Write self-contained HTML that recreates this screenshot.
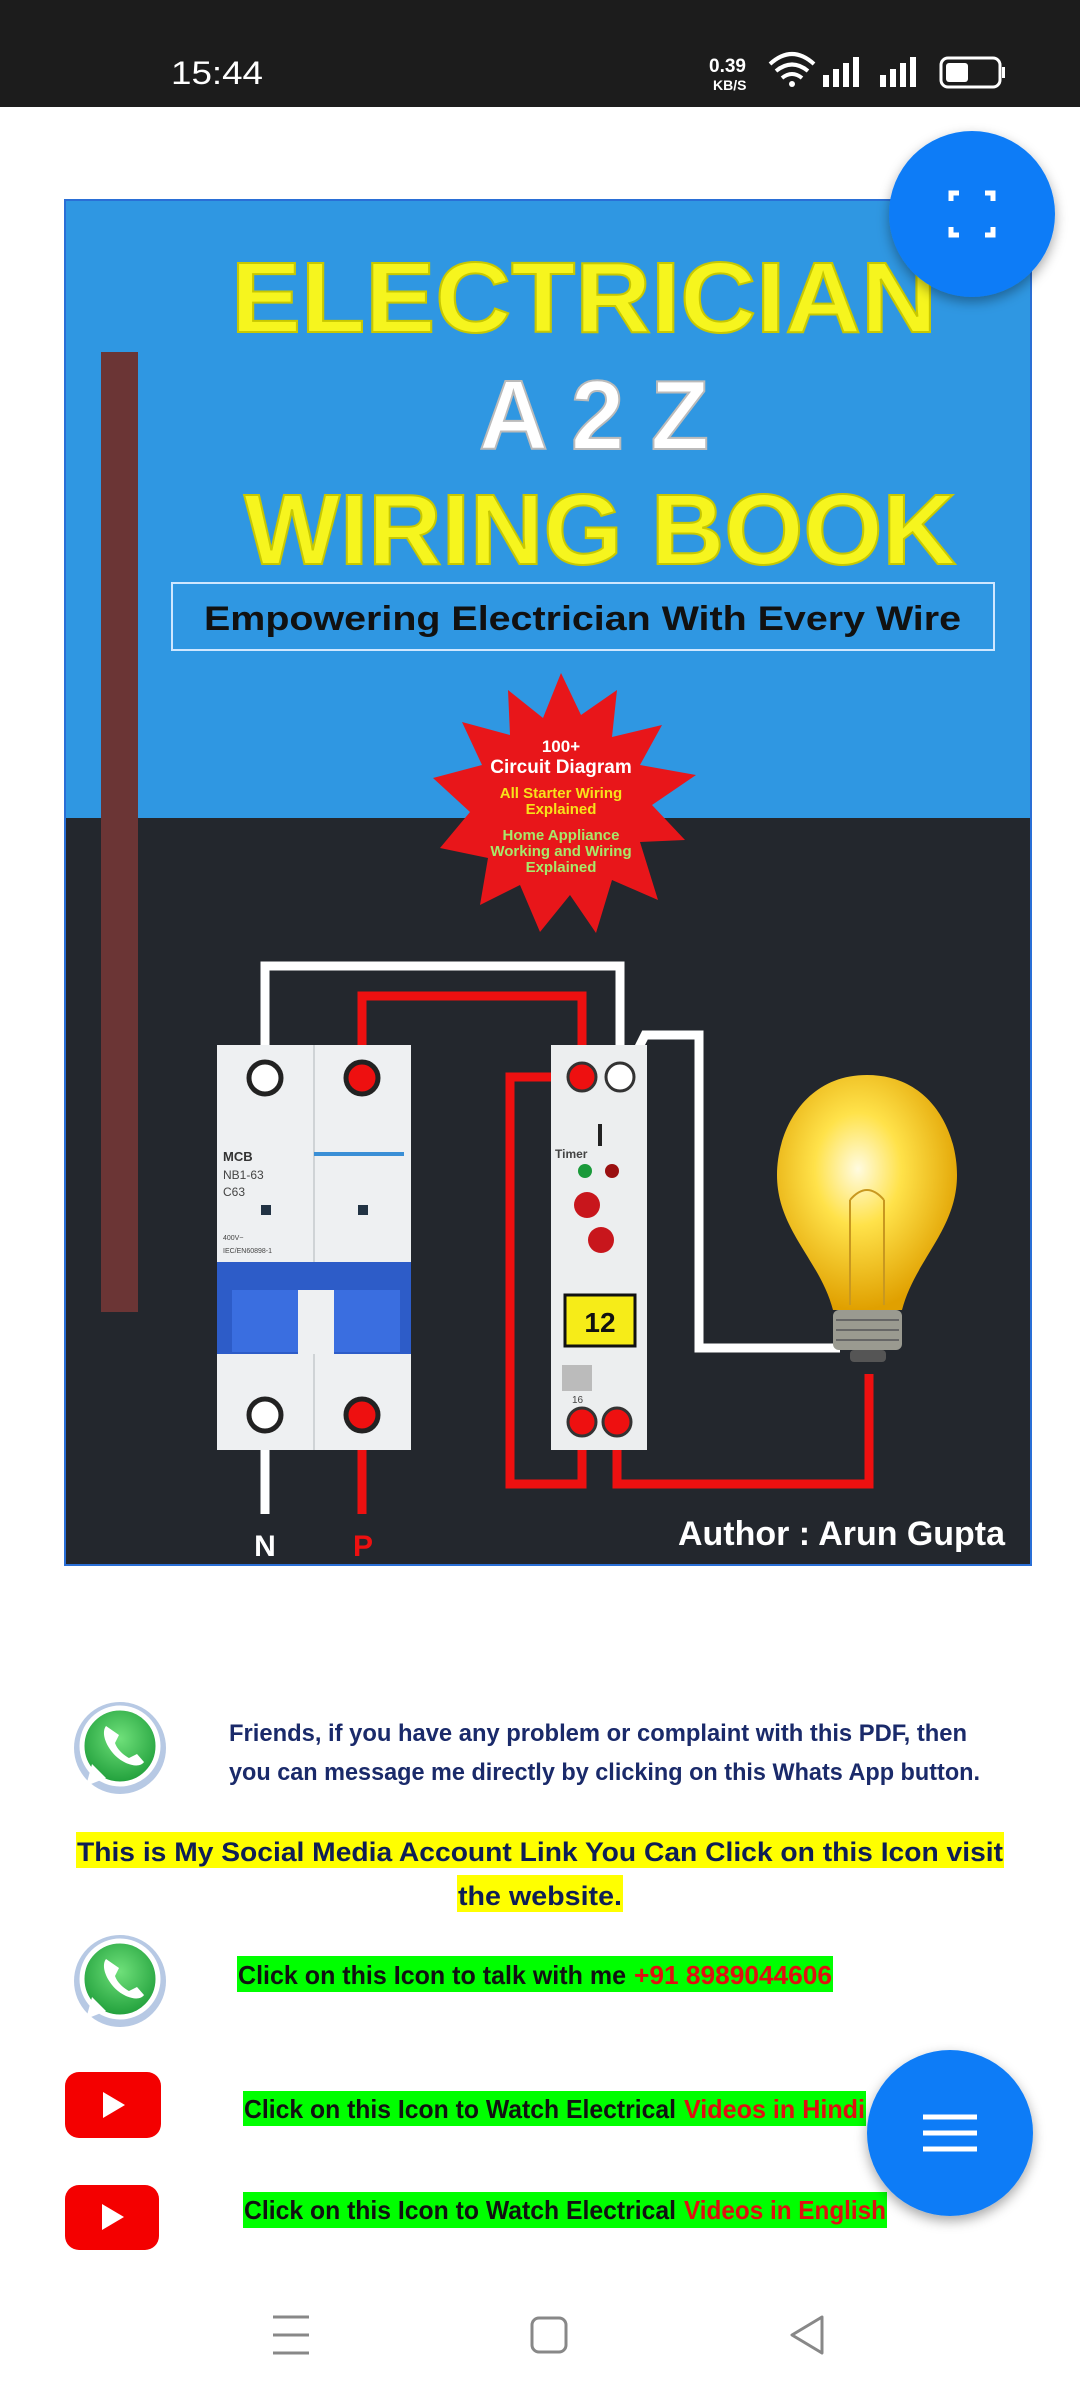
<!DOCTYPE html>
<html><head><meta charset="utf-8"><style>
html,body{margin:0;padding:0;background:#fff;width:1080px;height:2400px;overflow:hidden}
svg{display:block}
text{font-family:"Liberation Sans",sans-serif}
</style></head><body>
<svg width="1080" height="2400" viewBox="0 0 1080 2400" xmlns="http://www.w3.org/2000/svg">
<defs>
<radialGradient id="bulb" cx="0.45" cy="0.4" r="0.6"><stop offset="0" stop-color="#fffbe0"/><stop offset="0.4" stop-color="#ffe24a"/><stop offset="1" stop-color="#e0a000"/></radialGradient>
<radialGradient id="wa" cx="0.5" cy="0.4" r="0.6"><stop offset="0" stop-color="#6fe07a"/><stop offset="1" stop-color="#1f9e3a"/></radialGradient>
<filter id="sh" x="-30%" y="-30%" width="160%" height="160%"><feDropShadow dx="0" dy="5" stdDeviation="6" flood-opacity="0.35"/></filter>
</defs>
<!-- status bar -->
<rect x="0" y="0" width="1080" height="107" fill="#1c1c1c"/>
<text x="171" y="84" font-size="32" fill="#fff" textLength="92" lengthAdjust="spacingAndGlyphs">15:44</text>
<text x="709" y="72" font-size="19" fill="#fff" font-weight="bold">0.39</text>
<text x="713" y="90" font-size="14" fill="#fff" font-weight="bold">KB/S</text>
<path d="M770 64 q22 -20 44 0 M776 71 q16 -13 32 0 M782 78 q10 -8 20 0" stroke="#fff" stroke-width="4" fill="none"/>
<circle cx="792" cy="84" r="3" fill="#fff"/>
<rect x="823" y="75" width="6" height="12" fill="#fff"/><rect x="833" y="69" width="6" height="18" fill="#fff"/><rect x="843" y="63" width="6" height="24" fill="#fff"/><rect x="853" y="57" width="6" height="30" fill="#fff"/>
<rect x="880" y="75" width="6" height="12" fill="#fff"/><rect x="890" y="69" width="6" height="18" fill="#fff"/><rect x="900" y="63" width="6" height="24" fill="#fff"/><rect x="910" y="57" width="6" height="30" fill="#fff"/>
<rect x="941" y="58" width="59" height="29" rx="7" fill="none" stroke="#fff" stroke-width="3"/>
<rect x="946" y="63" width="22" height="19" rx="3" fill="#fff"/><rect x="1002" y="67" width="3" height="11" fill="#fff"/>

<!-- cover -->
<rect x="65" y="200" width="966" height="618" fill="#2f97e2"/>
<rect x="65" y="818" width="966" height="747" fill="#23272d"/>
<rect x="65" y="200" width="966" height="1365" fill="none" stroke="#2a6fd6" stroke-width="2"/>
<rect x="101" y="352" width="37" height="960" fill="#6b3535"/>
<text x="231" y="332" font-size="100" font-weight="bold" fill="#f6f51e" stroke="#c8c800" stroke-width="2" textLength="706" lengthAdjust="spacingAndGlyphs">ELECTRICIAN</text>
<text x="479" y="449" font-size="98" font-weight="bold" fill="#fff" stroke="#bbb" stroke-width="2" textLength="230" lengthAdjust="spacingAndGlyphs">A 2 Z</text>
<text x="244" y="564" font-size="100" font-weight="bold" fill="#f6f51e" stroke="#c8c800" stroke-width="2" textLength="712" lengthAdjust="spacingAndGlyphs">WIRING BOOK</text>
<rect x="172" y="583" width="822" height="67" fill="none" stroke="#cfe7ff" stroke-width="2"/>
<text x="204" y="630" font-size="34" font-weight="bold" fill="#111" textLength="757" lengthAdjust="spacingAndGlyphs">Empowering Electrician With Every Wire</text>
<!-- star -->
<polygon fill="#e8161a" points="561,673 581,715 617,690 612,737 662,725 640,765 696,775 652,805 685,840 640,842 658,900 612,880 596,933 570,895 540,932 520,885 480,905 488,858 440,848 470,812 433,778 482,765 462,722 510,735 508,690 543,718" />
<g font-weight="bold" text-anchor="middle">
<text x="561" y="752" font-size="17" fill="#fff">100+</text>
<text x="561" y="773" font-size="19" fill="#fff">Circuit Diagram</text>
<text x="561" y="798" font-size="15" fill="#f7e21a">All Starter Wiring</text>
<text x="561" y="814" font-size="15" fill="#f7e21a">Explained</text>
<text x="561" y="840" font-size="15" fill="#a8e86a">Home Appliance</text>
<text x="561" y="856" font-size="15" fill="#a8e86a">Working and Wiring</text>
<text x="561" y="872" font-size="15" fill="#a8e86a">Explained</text>
</g>
<!-- wires -->
<path d="M265 1078 V966 H620 V1078" stroke="#fff" stroke-width="9" fill="none"/>
<path d="M362 1078 V996 H582 V1078" stroke="#ee1010" stroke-width="9" fill="none"/>
<path d="M582 1077 H510 V1484 H582 V1422" stroke="#ee1010" stroke-width="9" fill="none"/>
<path d="M617 1422 V1484 H869 V1374" stroke="#ee1010" stroke-width="9" fill="none"/>
<path d="M625 1075 L645 1035 H699 V1348 H840" stroke="#fff" stroke-width="9" fill="none"/>
<path d="M265 1415 V1514" stroke="#fff" stroke-width="9"/>
<path d="M362 1415 V1514" stroke="#ee1010" stroke-width="9"/>
<!-- MCB -->
<rect x="217" y="1045" width="194" height="405" fill="#eef0f2"/>
<line x1="314" y1="1045" x2="314" y2="1450" stroke="#cfd3d6" stroke-width="2"/>
<rect x="314" y="1152" width="90" height="4" fill="#3a8fd6"/>
<text x="223" y="1161" font-size="13" font-weight="bold" fill="#333">MCB</text>
<text x="223" y="1179" font-size="12" fill="#444">NB1-63</text>
<text x="223" y="1196" font-size="12" fill="#444">C63</text>
<rect x="261" y="1205" width="10" height="10" fill="#234"/><rect x="358" y="1205" width="10" height="10" fill="#234"/>
<text x="223" y="1240" font-size="7" fill="#444">400V~</text>
<text x="223" y="1253" font-size="7" fill="#444">IEC/EN60898-1</text>
<rect x="217" y="1262" width="194" height="92" fill="#2d5cc8"/>
<rect x="232" y="1290" width="66" height="62" fill="#3a6ee0"/><rect x="334" y="1290" width="66" height="62" fill="#3a6ee0"/>
<rect x="298" y="1290" width="36" height="64" fill="#eef0f2"/>
<circle cx="265" cy="1078" r="16" fill="#fff" stroke="#222" stroke-width="5"/>
<circle cx="362" cy="1078" r="16" fill="#ee1010" stroke="#222" stroke-width="5"/>
<circle cx="265" cy="1415" r="16" fill="#fff" stroke="#222" stroke-width="5"/>
<circle cx="362" cy="1415" r="16" fill="#ee1010" stroke="#222" stroke-width="5"/>
<!-- Timer -->
<rect x="551" y="1045" width="96" height="405" fill="#eceeef"/>
<rect x="598" y="1124" width="4" height="22" fill="#222"/>
<text x="555" y="1158" font-size="12" font-weight="bold" fill="#444">Timer</text>
<circle cx="585" cy="1171" r="7" fill="#1a9a3a"/><circle cx="612" cy="1171" r="7" fill="#9a1010"/>
<circle cx="587" cy="1205" r="13" fill="#c8161c"/><circle cx="601" cy="1240" r="13" fill="#c8161c"/>
<rect x="565" y="1295" width="70" height="51" fill="#f6ec18" stroke="#111" stroke-width="3"/>
<text x="600" y="1332" font-size="28" font-weight="bold" fill="#111" text-anchor="middle">12</text>
<rect x="562" y="1365" width="30" height="26" fill="#bbb"/>
<text x="572" y="1403" font-size="10" fill="#444">16</text>
<circle cx="582" cy="1077" r="14" fill="#ee1010" stroke="#333" stroke-width="3"/>
<circle cx="620" cy="1077" r="14" fill="#fff" stroke="#333" stroke-width="3"/>
<circle cx="582" cy="1422" r="14" fill="#ee1010" stroke="#333" stroke-width="3"/>
<circle cx="617" cy="1422" r="14" fill="#ee1010" stroke="#333" stroke-width="3"/>
<!-- bulb -->
<path d="M867 1075 C930 1075 957 1130 957 1175 C957 1230 915 1260 902 1310 H833 C820 1260 777 1230 777 1175 C777 1130 805 1075 867 1075 Z" fill="url(#bulb)"/>
<path d="M850 1200 V1305 M884 1200 V1305 M850 1200 q17 -20 34 0" stroke="#c89820" stroke-width="2" fill="none"/>
<rect x="833" y="1310" width="69" height="40" rx="6" fill="#9a9a90"/>
<path d="M836 1320 H899 M836 1330 H899 M836 1340 H899" stroke="#666" stroke-width="2"/>
<rect x="850" y="1350" width="36" height="12" rx="4" fill="#555"/>
<text x="678" y="1545" font-size="34" font-weight="bold" fill="#fff" textLength="327" lengthAdjust="spacingAndGlyphs">Author : Arun Gupta</text>
<text x="265" y="1556" font-size="30" font-weight="bold" fill="#fff" text-anchor="middle">N</text>
<text x="363" y="1556" font-size="30" font-weight="bold" fill="#ee1010" text-anchor="middle">P</text>

<!-- FAB top -->
<circle cx="972" cy="214" r="83" fill="#0b7bf7" filter="url(#sh)"/>
<path d="M951 201 V193 H959 M985 193 H993 V201 M951 227 V235 H959 M985 235 H993 V227" stroke="#fff" stroke-width="5" fill="none"/>

<!-- bottom section -->
<g id="wa1">
<circle cx="120" cy="1748" r="46" fill="#b7c9e4"/>
<circle cx="120" cy="1746" r="38" fill="url(#wa)" stroke="#fff" stroke-width="5"/>
<path d="M86 1786 L92 1764 L106 1778 Z" fill="#fff"/>
<path d="M106 1726 c-6 8 2 24 12 32 s22 10 26 4 l-7 -8 l-8 4 c-6 -3 -12 -9 -14 -15 l4 -8 z" fill="#fff"/>
</g>
<g transform="translate(0,233)">
<circle cx="120" cy="1748" r="46" fill="#b7c9e4"/>
<circle cx="120" cy="1746" r="38" fill="url(#wa)" stroke="#fff" stroke-width="5"/>
<path d="M86 1786 L92 1764 L106 1778 Z" fill="#fff"/>
<path d="M106 1726 c-6 8 2 24 12 32 s22 10 26 4 l-7 -8 l-8 4 c-6 -3 -12 -9 -14 -15 l4 -8 z" fill="#fff"/>
</g>
<text x="229" y="1741" font-size="24" font-weight="bold" fill="#1a2a6a" textLength="738" lengthAdjust="spacingAndGlyphs">Friends, if you have any problem or complaint with this PDF, then</text>
<text x="229" y="1780" font-size="24" font-weight="bold" fill="#1a2a6a" textLength="751" lengthAdjust="spacingAndGlyphs">you can message me directly by clicking on this Whats App button.</text>
<rect x="76" y="1832" width="928" height="36" fill="#ffff00"/>
<rect x="457" y="1875" width="166" height="37" fill="#ffff00"/>
<text x="77" y="1861" font-size="27" font-weight="bold" fill="#0e1e55" textLength="926" lengthAdjust="spacingAndGlyphs">This is My Social Media Account Link You Can Click on this Icon visit</text>
<text x="458" y="1905" font-size="27" font-weight="bold" fill="#0e1e55" textLength="164" lengthAdjust="spacingAndGlyphs">the website.</text>
<rect x="237" y="1956" width="596" height="36" fill="#00ff00"/>
<text x="238" y="1984" font-size="26" font-weight="bold" fill="#111" textLength="388" lengthAdjust="spacingAndGlyphs">Click on this Icon to talk with me</text>
<text x="634" y="1984" font-size="26" font-weight="bold" fill="#e01010" textLength="198" lengthAdjust="spacingAndGlyphs">+91 8989044606</text>
<rect x="65" y="2072" width="96" height="66" rx="14" fill="#f40000"/>
<polygon points="103,2092 103,2118 125,2105" fill="#fff"/>
<rect x="65" y="2185" width="94" height="65" rx="14" fill="#f40000"/>
<polygon points="102,2204 102,2230 124,2217" fill="#fff"/>
<rect x="243" y="2091" width="623" height="35" fill="#00ff00"/>
<text x="244" y="2118" font-size="26" font-weight="bold" fill="#111" textLength="432" lengthAdjust="spacingAndGlyphs">Click on this Icon to Watch Electrical</text>
<text x="684" y="2118" font-size="26" font-weight="bold" fill="#e01010" textLength="181" lengthAdjust="spacingAndGlyphs">Videos in Hindi</text>
<rect x="243" y="2192" width="644" height="36" fill="#00ff00"/>
<text x="244" y="2219" font-size="26" font-weight="bold" fill="#111" textLength="432" lengthAdjust="spacingAndGlyphs">Click on this Icon to Watch Electrical</text>
<text x="684" y="2219" font-size="26" font-weight="bold" fill="#e01010" textLength="202" lengthAdjust="spacingAndGlyphs">Videos in English</text>

<!-- FAB menu -->
<circle cx="950" cy="2133" r="83" fill="#0b7bf7" filter="url(#sh)"/>
<path d="M923 2117 H977 M923 2133 H977 M923 2149 H977" stroke="#fff" stroke-width="5"/>

<!-- nav bar -->
<path d="M273 2317 H309 M273 2335 H309 M273 2353 H309" stroke="#888" stroke-width="3"/>
<rect x="532" y="2318" width="34" height="34" rx="7" fill="none" stroke="#888" stroke-width="3"/>
<path d="M822 2317 L792 2335 L822 2353 Z" fill="none" stroke="#888" stroke-width="3" stroke-linejoin="round"/>
</svg>
</body></html>
